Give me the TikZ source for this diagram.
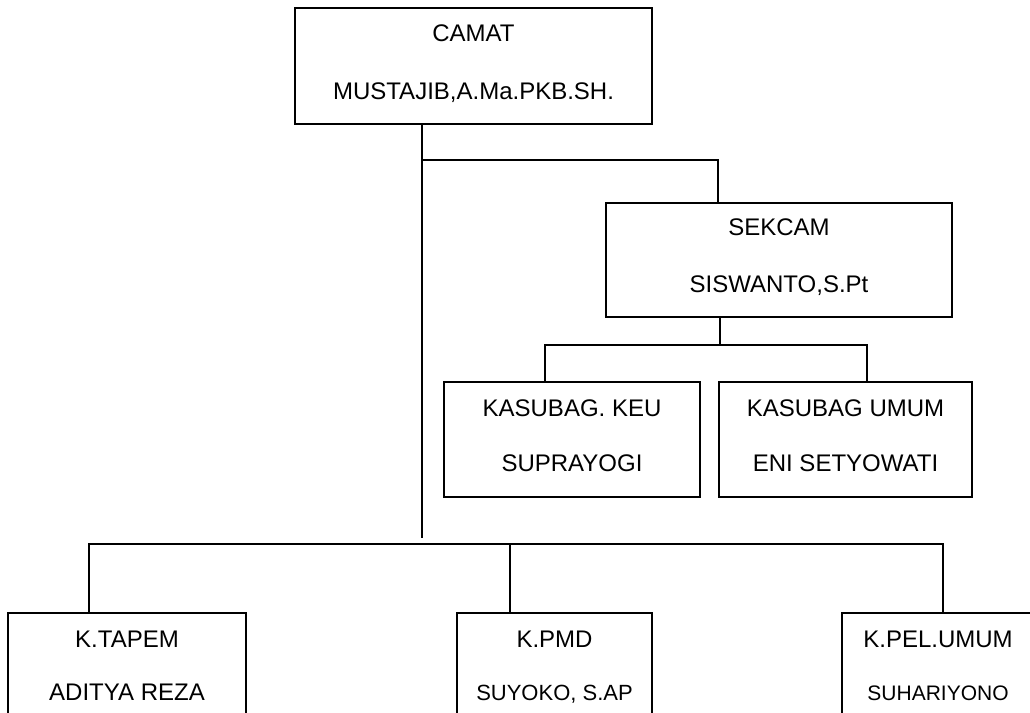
\documentclass[tikz,border=0pt]{standalone}
\usepackage{fontspec}
\setmainfont{Liberation Sans}
\usetikzlibrary{calc}
\begin{document}
\begin{tikzpicture}[x=1pt,y=-1pt,
  box/.style={draw,line width=1.6pt,rectangle,inner sep=0pt},
  conn/.style={line width=1.6pt},
  txt/.style={anchor=base,inner sep=0pt,font=\fontsize{24}{28}\selectfont},
  txtsmall/.style={anchor=base,inner sep=0pt,font=\fontsize{22}{26}\selectfont},
  txtsmaller/.style={anchor=base,inner sep=0pt,font=\fontsize{21}{25}\selectfont}]
\useasboundingbox (0,0) rectangle (1030,712);
\clip (0,0) rectangle (1030,712);
% boxes
\node[box,minimum width=357pt,minimum height=116pt] (camat) at (473.5,66) {};
\node[box,minimum width=346pt,minimum height=114pt] (sekcam) at (779,260) {};
\node[box,minimum width=256pt,minimum height=115pt] (keu) at (572,439.5) {};
\node[box,minimum width=253pt,minimum height=115pt] (umum) at (845.5,439.5) {};
\node[box,minimum width=238pt,minimum height=115pt] (tapem) at (127,670.5) {};
\node[box,minimum width=195pt,minimum height=115pt] (pmd) at (554.5,670.5) {};
\node[box,minimum width=192pt,minimum height=115pt] (pel) at (938,670.5) {};
% texts
\node[txt] (camatA) at ($(camat.north)+(0,34.7)$) {CAMAT};
\node[txt] (camatB) at ($(camat.north)+(0,92)$) {MUSTAJIB,A.Ma.PKB.SH.};
\node[txt] (sekcamA) at ($(sekcam.north)+(0,33.7)$) {SEKCAM};
\node[txt] (sekcamB) at ($(sekcam.north)+(0,90)$) {SISWANTO,S.Pt};
\node[txt] (keuA) at ($(keu.north)+(0,35)$) {KASUBAG. KEU};
\node[txt] (keuB) at ($(keu.north)+(0,90)$) {SUPRAYOGI};
\node[txt] (umumA) at ($(umum.north)+(0,35)$) {KASUBAG UMUM};
\node[txt] (umumB) at ($(umum.north)+(0,90)$) {ENI SETYOWATI};
\node[txt] (tapemA) at ($(tapem.north)+(0,35)$) {K.TAPEM};
\node[txt] (tapemB) at ($(tapem.north)+(0,88)$) {ADITYA REZA};
\node[txt] (pmdA) at ($(pmd.north)+(0,35)$) {K.PMD};
\node[txtsmall] (pmdB) at ($(pmd.north)+(0,88)$) {SUYOKO, S.AP};
\node[txt] (pelA) at ($(pel.north)+(0,35)$) {K.PEL.UMUM};
\node[txtsmaller] (pelB) at ($(pel.north)+(0,88)$) {SUHARIYONO};
% junction coordinates
\coordinate (trunk) at (422,538);
\coordinate (b1) at (422,160);
\coordinate (s1) at (718,160);
\coordinate (s2) at (720,345);
\coordinate (k1) at (545,345);
\coordinate (k2) at (867,345);
\coordinate (h1) at (89,544);
\coordinate (h2) at (510,544);
\coordinate (h3) at (943,544);
% connectors
\draw[conn] (camat.south -| trunk) -- (trunk);
\draw[conn] (b1) -- (s1) -- (s1 |- sekcam.north);
\draw[conn] (sekcam.south -| s2) -- (s2);
\draw[conn] (k1 |- keu.north) -- (k1) -- (k2) -- (k2 |- umum.north);
\draw[conn] (h1 |- tapem.north) -- (h1) -- (h3) -- (h3 |- pel.north);
\draw[conn] (h2) -- (h2 |- pmd.north);
\end{tikzpicture}
\end{document}
